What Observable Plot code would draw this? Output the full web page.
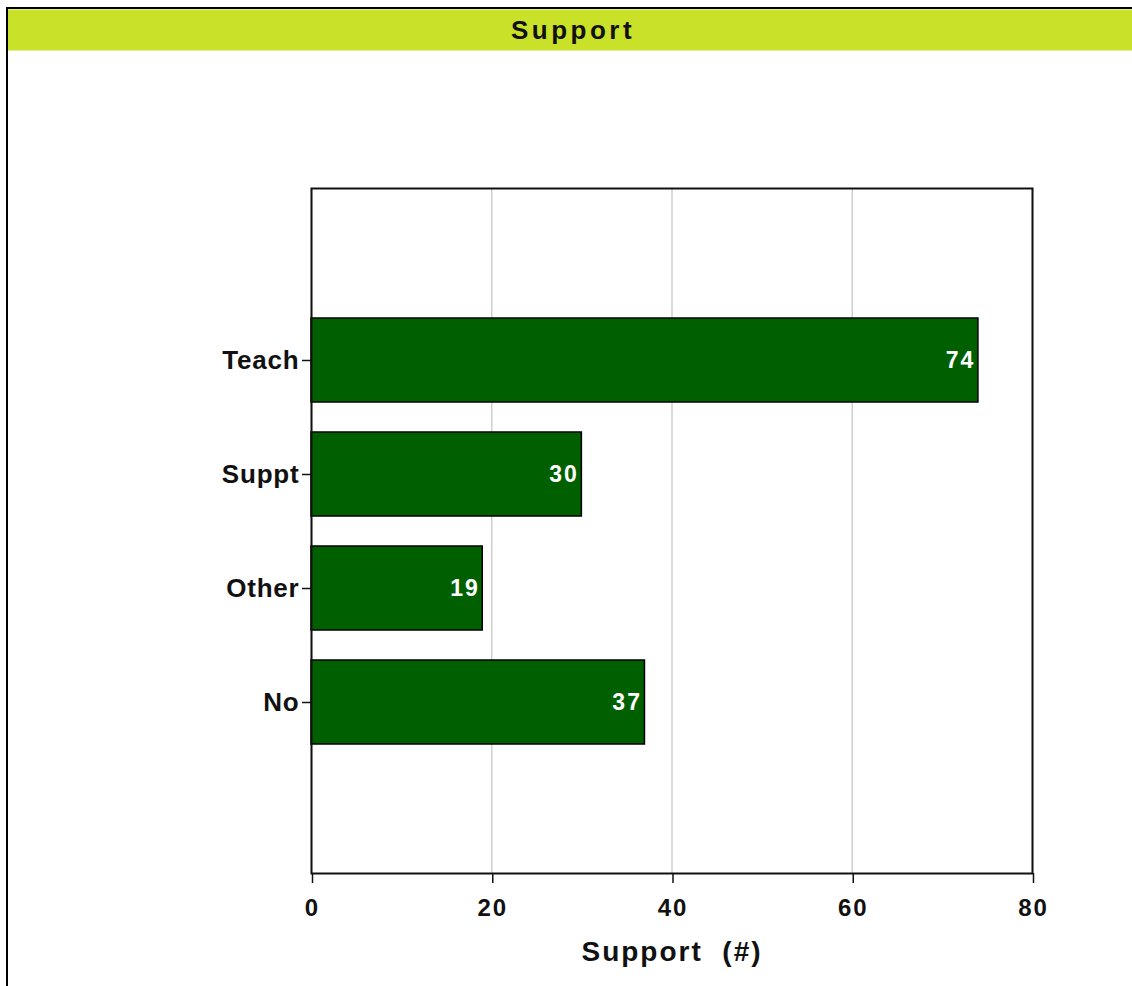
<!DOCTYPE html>
<html>
<head>
<meta charset="utf-8">
<script src="https://cdn.jsdelivr.net/npm/d3@7"></script>
<script src="https://cdn.jsdelivr.net/npm/@observablehq/plot@0.6"></script>
<style>
  html, body { margin: 0; padding: 0; background: #fff; }
  body { font-family: "Liberation Sans", Arial, Helvetica, sans-serif; }
  #wrap {
    position: absolute; left: 6px; top: 7px;
    width: 1126px; height: 979px;
    border-left: 2px solid #000; border-top: 2px solid #000;
    overflow: hidden;
  }
  #title {
    height: 42px; box-sizing: border-box;
    background: #c9e128;
    border-top: 1px solid #e2f08c; border-bottom: 1px solid #e2f08c;
    text-align: center; font-weight: bold; font-size: 26px; line-height: 40px;
    letter-spacing: 3.5px; color: #111; padding-left: 4px;
  }
  #chart svg { display: block; }
  #chart [aria-label="y-axis tick label"] text { letter-spacing: 0.8px; }
  #chart [aria-label="x-axis tick label"] text { letter-spacing: 2px; }
  #chart .vlabel text { letter-spacing: 2px; }
  #chart .xlabel text { letter-spacing: 2px; }
</style>
</head>
<body>
<div id="wrap">
  <div id="title">Support</div>
  <div id="chart"></div>
</div>
<script>
const categories = ["Teach", "Suppt", "Other", "No"];
const counts = [74, 30, 19, 37];
const xTicks = [0, 20, 40, 60, 80];
const xLabel = ["Support\u00a0 (#)"];

const data = categories.map((c, i) => ({category: c, count: counts[i]}));

const chart = Plot.plot({
  width: 1124,
  height: 935,
  marginLeft: 303,
  marginRight: 100,
  marginTop: 137,
  marginBottom: 113,
  style: {fontFamily: "'Liberation Sans', Arial, Helvetica, sans-serif", fontWeight: "bold", color: "#111", background: "#fff", overflow: "visible"},
  x: {domain: [0, 80], ticks: xTicks},
  y: {domain: categories, paddingInner: 0.265, paddingOuter: 1.128, align: 0.5},
  marks: [
    Plot.gridX(xTicks, {stroke: "#cfcfcf", strokeOpacity: 1, strokeWidth: 1.5}),
    Plot.barX(data, {x: "count", y: "category", fill: "#006000", stroke: "#000", strokeWidth: 1.5}),
    Plot.text(data, {x: "count", y: "category", text: d => String(d.count), textAnchor: "end", dx: -3, fill: "#fff", fontSize: 23, fontWeight: "bold", className: "vlabel"}),
    Plot.frame({stroke: "#111", strokeWidth: 2}),
    Plot.axisX(xTicks, {tickSize: 10, tickPadding: 15, fontSize: 24, label: null, stroke: "#111", strokeWidth: 1.5, dx: 1}),
    Plot.axisY({tickSize: 9, tickPadding: 3, fontSize: 26, label: null, stroke: "#111", strokeWidth: 1.5}),
    Plot.text(xLabel, {frameAnchor: "bottom", dy: 87, fontSize: 28, fontWeight: "bold", fill: "#111", className: "xlabel"})
  ]
});
document.getElementById("chart").appendChild(chart);
</script>
</body>
</html>
